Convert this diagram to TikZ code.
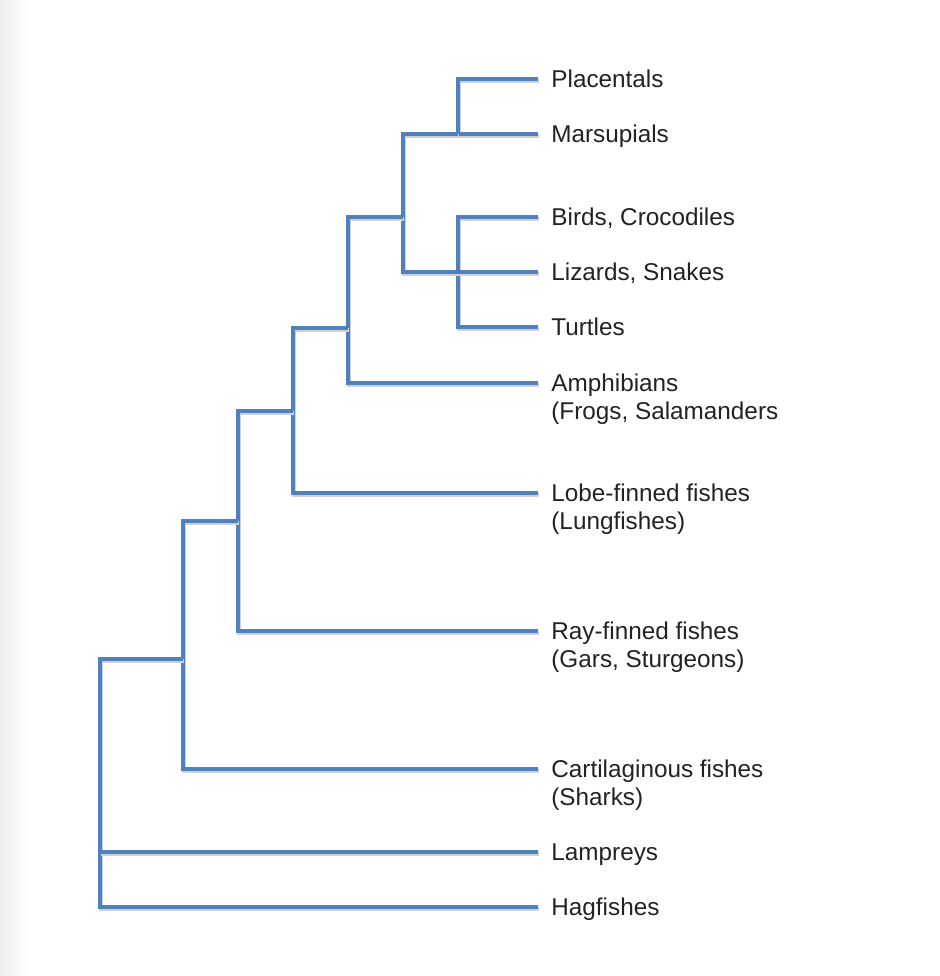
\documentclass[tikz,border=0pt]{standalone}
\usepackage{fontspec}
\setmainfont{Liberation Sans}
\usetikzlibrary{positioning}
\definecolor{cladeblue}{RGB}{79,129,189}
\definecolor{labelgray}{RGB}{34,34,34}

\begin{document}
\begin{tikzpicture}[
x=0.5pt, y=-0.5pt,
branch/.style={draw=cladeblue, line width=2.3pt, line join=miter,
  preaction={draw=black!18, line width=2.3pt, transform canvas={shift={(0.4pt,-1pt)}}}},
leaf/.style={anchor=base west, inner sep=0pt, xshift=6.5pt, yshift=#1,
  align=left, text=labelgray, font=\fontsize{12.15}{14}\selectfont},
leaf/.default=-4.3pt
]
\useasboundingbox (0,0) rectangle (940,976);
\fill[left color=black!7, right color=white] (0,0) rectangle (28,976);
% leaf tips
\coordinate (pla) at (538,79);
\coordinate (mar) at (538,134);
\coordinate (bir) at (538,217);
\coordinate (liz) at (538,272);
\coordinate (tur) at (538,327);
\coordinate (amp) at (538,383);
\coordinate (lob) at (538,493);
\coordinate (ray) at (538,631);
\coordinate (car) at (538,769);
\coordinate (lam) at (538,852);
\coordinate (hag) at (538,907);
% labels (two-line ones sit one line lower)
\node[leaf] (plat) at (pla) {Placentals};
\node[leaf] (mart) at (mar) {Marsupials};
\node[leaf] (birt) at (bir) {Birds, Crocodiles};
\node[leaf] (lizt) at (liz) {Lizards, Snakes};
\node[leaf] (turt) at (tur) {Turtles};
\node[leaf=-18.3pt] (ampt) at (amp) {Amphibians\\(Frogs, Salamanders};
\node[leaf=-18.3pt] (lobt) at (lob) {Lobe-finned fishes\\(Lungfishes)};
\node[leaf=-18.3pt] (rayt) at (ray) {Ray-finned fishes\\(Gars, Sturgeons)};
\node[leaf=-18.3pt] (cart) at (car) {Cartilaginous fishes\\(Sharks)};
\node[leaf] (lamt) at (lam) {Lampreys};
\node[leaf] (hagt) at (hag) {Hagfishes};
% internal nodes
\coordinate (mam) at (458,134);
\coordinate (rep) at (458,272);
\coordinate (amn) at (403,217);
\coordinate (tet) at (348,328);
\coordinate (sar) at (293,411);
\coordinate (ost) at (238,521);
\coordinate (gna) at (183,659);
\coordinate (vrt) at (100,852);
% branches
\draw[branch] (pla) -| (mam) |- (mar);
\draw[branch] (bir) -| (rep) |- (tur);
\draw[branch] (mam) -| (amn) |- (liz);
\draw[branch] (amn) -| (tet) |- (amp);
\draw[branch] (tet) -| (sar) |- (lob);
\draw[branch] (sar) -| (ost) |- (ray);
\draw[branch] (ost) -| (gna) |- (car);
\draw[branch] (gna) -| (vrt) |- (hag);
\draw[branch] (vrt) -- (lam);
\end{tikzpicture}
\end{document}
